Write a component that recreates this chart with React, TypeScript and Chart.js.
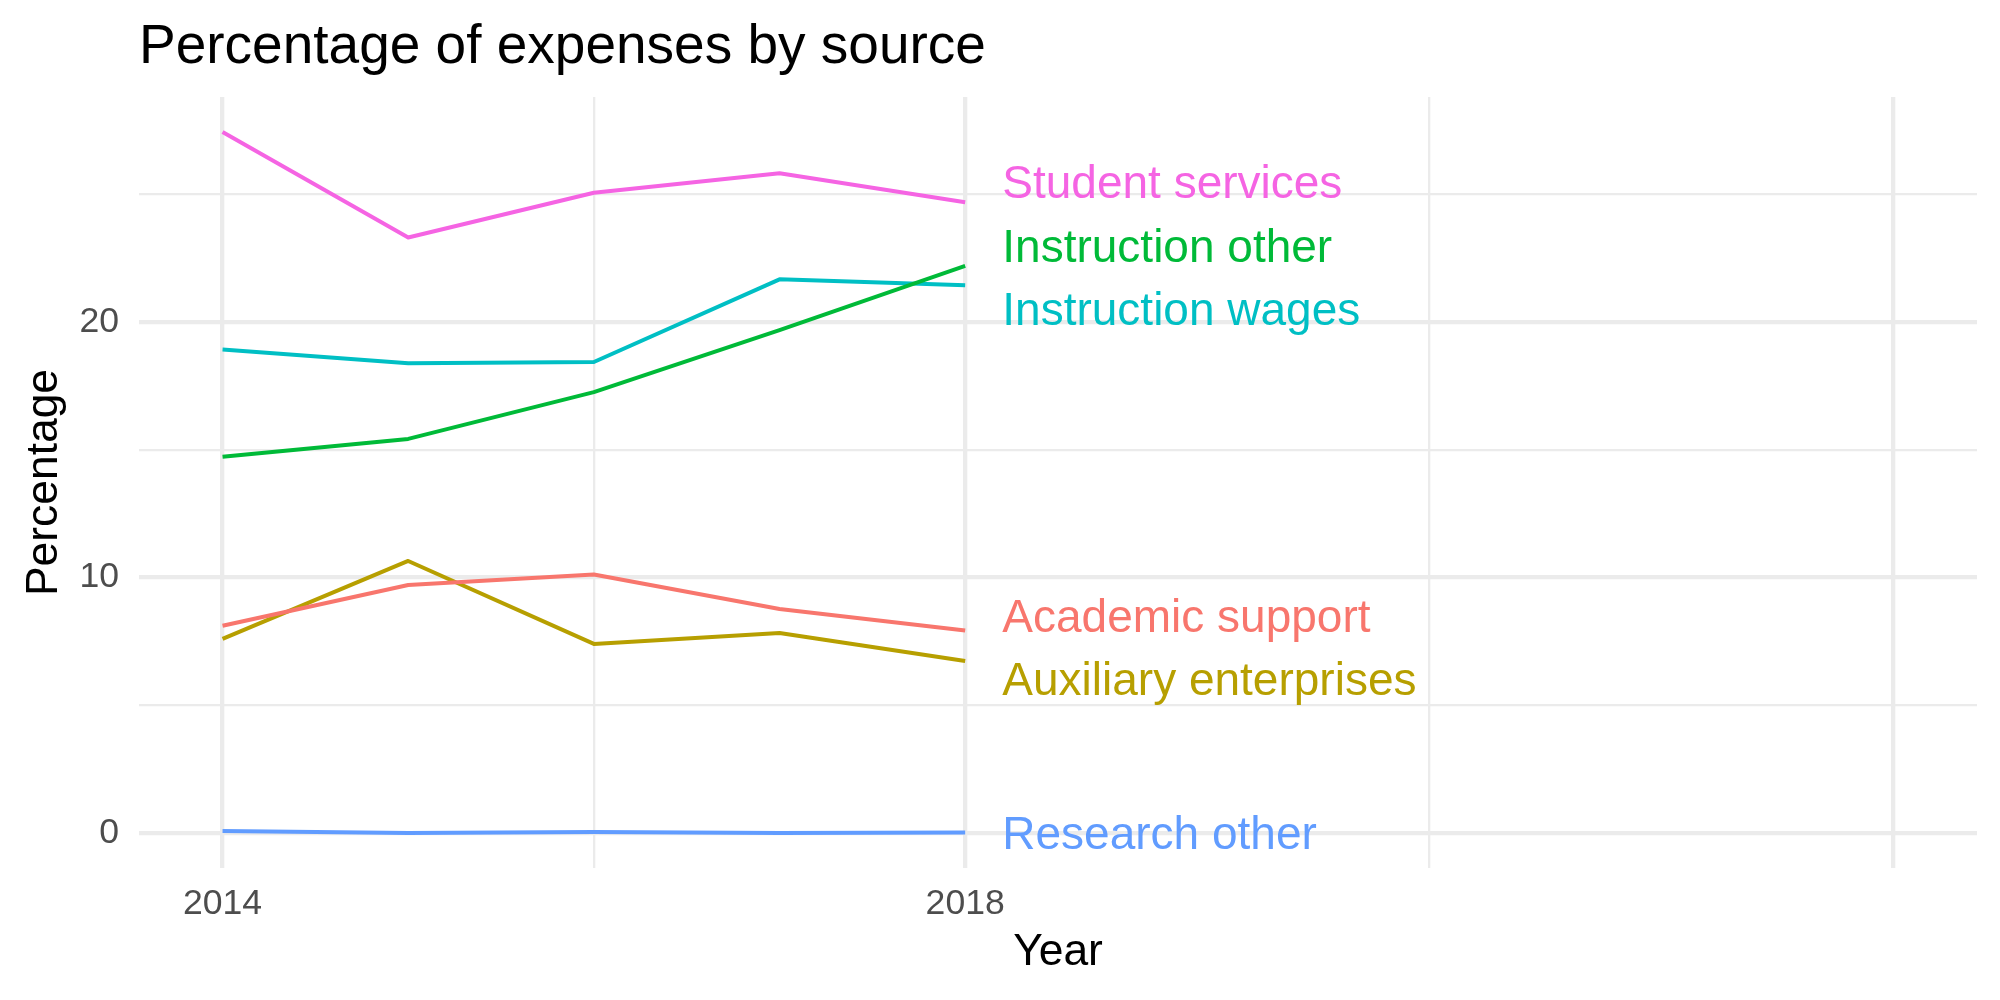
import React, { useEffect, useRef } from "react";
import { Chart, registerables } from "chart.js";

Chart.register(...registerables);

// ---- data ----
const years = [2014, 2015, 2016, 2017, 2018];
const seriesNames = [
  "Academic support",
  "Auxiliary enterprises",
  "Instruction other",
  "Instruction wages",
  "Research other",
  "Student services",
];
const academicSupport = [8.11, 9.71, 10.12, 8.77, 7.93];
const auxiliaryEnterprises = [7.6, 10.65, 7.4, 7.83, 6.73];
const instructionOther = [14.73, 15.43, 17.26, 19.69, 22.21];
const instructionWages = [18.93, 18.39, 18.44, 21.68, 21.45];
const researchOther = [0.07, 0.0, 0.03, 0.0, 0.02];
const studentServices = [27.45, 23.32, 25.07, 25.83, 24.7];
const seriesValues = [
  academicSupport,
  auxiliaryEnterprises,
  instructionOther,
  instructionWages,
  researchOther,
  studentServices,
];
// label anchors (y value of each end label, repelled), x value of labels
const labelAnchorY = [8.53, 6.05, 23.0, 20.53, 0.01, 25.5];
const labelAnchorX = 2018.2;

const xMajorBreaks = [2014, 2018, 2023];
const xMinorBreaks = [2016, 2020.5];
const xTickLabels = ["2014", "2018", ""];
const yMajorBreaks = [0, 10, 20];
const yMinorBreaks = [5, 15, 25];
const yTickLabels = ["0", "10", "20"];

const colors = ["#F8766D", "#B79F00", "#00BA38", "#00BFC4", "#619CFF", "#F564E3"];

const FONT = "'Liberation Sans', Arial, Helvetica, sans-serif";

export default function App() {
  const canvasRef = useRef<HTMLCanvasElement | null>(null);

  useEffect(() => {
    const canvas = canvasRef.current;
    if (!canvas) return;

    const labelPlugin = {
      id: "endLabels",
      afterDatasetsDraw(chart: any) {
        const ctx = chart.ctx;
        const xs = chart.scales.x;
        const ys = chart.scales.y;
        ctx.save();
        const size = 46;
        ctx.font = `${size}px ${FONT}`;
        ctx.textAlign = "left";
        ctx.textBaseline = "alphabetic";
        seriesNames.forEach((name, i) => {
          ctx.fillStyle = colors[i];
          const px = xs.getPixelForValue(labelAnchorX);
          const py = ys.getPixelForValue(labelAnchorY[i]) + 0.358 * size;
          ctx.fillText(name, px, py);
        });
        ctx.restore();
      },
    };

    const titlePlugin = {
      id: "leftTitle",
      afterDraw(chart: any) {
        const ctx = chart.ctx;
        ctx.save();
        ctx.font = `55px ${FONT}`;
        ctx.fillStyle = "#000000";
        ctx.textAlign = "left";
        ctx.textBaseline = "alphabetic";
        ctx.fillText("Percentage of expenses by source", chart.chartArea.left, 63);
        ctx.restore();
      },
    };

    const xAll = [...xMajorBreaks, ...xMinorBreaks].sort((a, b) => a - b);
    const yAll = [...yMajorBreaks, ...yMinorBreaks].sort((a, b) => a - b);

    const chart = new Chart(canvas, {
      type: "line",
      data: {
        datasets: seriesNames.map((name, i) => ({
          label: name,
          data: years.map((yr, j) => ({ x: yr, y: seriesValues[i][j] })),
          borderColor: colors[i],
          backgroundColor: colors[i],
          borderWidth: 4,
          pointRadius: 0,
          tension: 0,
          fill: false,
          borderJoinStyle: "round",
          borderCapStyle: "butt",
        })),
      },
      options: {
        animation: false,
        responsive: false,
        devicePixelRatio: 1,
        layout: { padding: { top: 97, right: 23, bottom: 0, left: 0 } },
        plugins: {
          legend: { display: false },
          tooltip: { enabled: false },
          title: { display: false },
        },
        scales: {
          x: {
            type: "linear",
            min: 2013.55,
            max: 2023.45,
            afterBuildTicks(scale: any) {
              scale.ticks = xAll.map((v) => ({ value: v }));
            },
            afterFit(scale: any) {
              scale.height = 132;
            },
            border: { display: false },
            grid: {
              color: "#EBEBEB",
              drawTicks: false,
              lineWidth: (c: any) =>
                c.tick && xMajorBreaks.includes(c.tick.value) ? 4.3 : 2.3,
            },
            ticks: {
              autoSkip: false,
              maxRotation: 0,
              padding: 15,
              color: "#4D4D4D",
              font: { family: FONT, size: 35.6 },
              callback: (v: any) => {
                const k = xMajorBreaks.indexOf(Number(v));
                return k >= 0 ? xTickLabels[k] : "";
              },
            },
            title: {
              display: true,
              text: "Year",
              color: "#000000",
              font: { family: FONT, size: 44.4 },
              padding: { top: 0, bottom: 21 },
            },
          },
          y: {
            type: "linear",
            min: -1.375,
            max: 28.82,
            afterBuildTicks(scale: any) {
              scale.ticks = yAll.map((v) => ({ value: v }));
            },
            afterFit(scale: any) {
              scale.width = 139;
            },
            border: { display: false },
            grid: {
              color: "#EBEBEB",
              drawTicks: false,
              lineWidth: (c: any) =>
                c.tick && yMajorBreaks.includes(c.tick.value) ? 4.3 : 2.3,
            },
            ticks: {
              autoSkip: false,
              padding: 20,
              color: "#4D4D4D",
              font: { family: FONT, size: 35.6 },
              callback: (v: any) => {
                const k = yMajorBreaks.indexOf(Number(v));
                return k >= 0 ? yTickLabels[k] : "";
              },
            },
            title: {
              display: true,
              text: "Percentage",
              color: "#000000",
              font: { family: FONT, size: 44.4 },
              padding: { top: 18, bottom: 0 },
            },
          },
        },
      },
      plugins: [labelPlugin, titlePlugin],
    } as any);

    return () => {
      chart.destroy();
    };
  }, []);

  return (
    <div
      style={{
        position: "fixed",
        left: 0,
        top: 0,
        width: 2000,
        height: 1000,
        background: "#ffffff",
      }}
    >
      <canvas
        ref={canvasRef}
        width={2000}
        height={1000}
        style={{ width: 2000, height: 1000, display: "block" }}
      />
    </div>
  );
}
